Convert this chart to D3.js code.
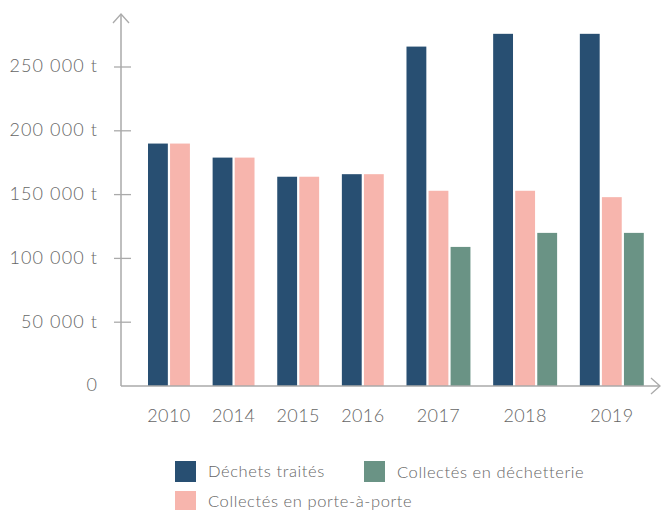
<!DOCTYPE html>
<html>
<head>
<meta charset="utf-8">
<script src="https://cdn.jsdelivr.net/npm/d3@7"></script>
<style>
    body { margin: 0; background: #fff; }
    svg { display: block; }
    text { font-family: Lato, "Open Sans", sans-serif; font-weight: 300; fill: #666666; }
</style>
</head>
<body>
<svg id="chart"></svg>
<script>
// données (tonnes)
const years = ['2010', '2014', '2015', '2016', '2017', '2018', '2019'];
const dechetsTraites = [190000, 179000, 164000, 166000, 266000, 276000, 276000];
const porteAPorte = [190000, 179000, 164000, 166000, 153000, 153000, 148000];
const dechetterie = [null, null, null, null, 109000, 120000, 120000];
const yTicks = [0, 50000, 100000, 150000, 200000, 250000];

const series = [
    { name: 'Déchets traités', values: dechetsTraites, color: '#284f72' },
    { name: 'Collectés en porte-à-porte', values: porteAPorte, color: '#f7b5ad' },
    { name: 'Collectés en déchetterie', values: dechetterie, color: '#6a9385' }
];

const width = 661, height = 510;
const axisX = 121, axisY = 386;

const svg = d3.select('#chart').attr('width', width).attr('height', height);

// les groupes n'ont pas tous le même nombre de barres
const groupGap = 0.93;
const groups = [];
let cursor = 0;
years.forEach((yr, i) => {
    const bars = series
        .map((s, k) => ({ serie: s, value: s.values[i], k }))
        .filter(b => b.value != null);
    bars.forEach((b, j) => b.slot = cursor + j);
    groups.push({ year: yr, start: cursor, n: bars.length, bars });
    cursor += bars.length + groupGap;
});
const totalUnits = cursor - groupGap;

const x = d3.scaleLinear().domain([0, totalUnits]).range([148, 646]);
const y = d3.scaleLinear().domain([0, 250000]).range([axisY, 67]);
const barW = x(0.9) - x(0);

// barres
const g = svg.append('g');
groups.forEach(gr => {
    g.selectAll(null)
        .data(gr.bars)
        .join('rect')
        .attr('x', d => x(d.slot))
        .attr('y', d => y(d.value))
        .attr('width', barW)
        .attr('height', d => axisY - y(d.value))
        .attr('fill', d => d.serie.color);
});

// axes
const axisColor = '#aaaaaa';
svg.append('line')
    .attr('x1', axisX).attr('y1', 14).attr('x2', axisX).attr('y2', axisY)
    .attr('stroke', axisColor).attr('stroke-width', 1.5);
svg.append('line')
    .attr('x1', axisX).attr('y1', axisY).attr('x2', 660).attr('y2', axisY)
    .attr('stroke', axisColor).attr('stroke-width', 1.5);
svg.append('path')
    .attr('d', `M${axisX - 8},23L${axisX},14L${axisX + 8},23`)
    .attr('fill', 'none').attr('stroke', axisColor).attr('stroke-width', 1.3);
svg.append('path')
    .attr('d', `M651,378L660,${axisY}L651,394`)
    .attr('fill', 'none').attr('stroke', axisColor).attr('stroke-width', 1.3);

// graduations
const fmt = v => v === 0 ? '0' : d3.format(',')(v).replace(/,/g, ' ') + ' t';
svg.selectAll('.tick')
    .data(yTicks.filter(v => v > 0))
    .join('line')
    .attr('x1', 114).attr('x2', 131)
    .attr('y1', d => y(d)).attr('y2', d => y(d))
    .attr('stroke', axisColor).attr('stroke-width', 1.3);

svg.selectAll('.ylab')
    .data(yTicks)
    .join('text')
    .attr('x', 98)
    .attr('y', d => y(d) - 1)
    .attr('dy', '0.35em')
    .attr('text-anchor', 'end')
    .style('font-size', '18px')
    .style('letter-spacing', '1.1px')
    .text(fmt);

svg.selectAll('.xlab')
    .data(groups)
    .join('text')
    .attr('x', d => (x(d.start) + x(d.start + d.n - 0.1)) / 2)
    .attr('y', 422)
    .attr('text-anchor', 'middle')
    .style('font-size', '18px')
    .style('letter-spacing', '0.4px')
    .text(d => d.year);

// légende
const legendItems = [
    { serie: series[0], x: 175, y: 461, ty: 477 },
    { serie: series[2], x: 364, y: 461, ty: 478 },
    { serie: series[1], x: 175, y: 491, ty: 507 }
];
const leg = svg.append('g');
legendItems.forEach(it => {
    leg.append('rect')
        .attr('x', it.x).attr('y', it.y)
        .attr('width', 21).attr('height', 21)
        .attr('fill', it.serie.color);
    leg.append('text')
        .attr('x', it.x + 33).attr('y', it.ty)
        .style('font-size', '16.5px')
        .style('letter-spacing', '0.6px')
        .text(it.serie.name);
});
</script>
</body>
</html>
